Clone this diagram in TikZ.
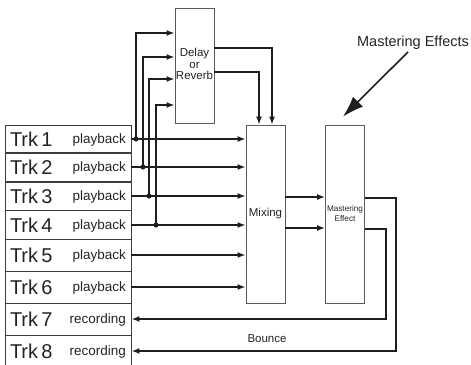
\documentclass[tikz,border=0pt]{standalone}
\usepackage{fontspec}
\setmainfont{Liberation Sans}
\usepackage{xcolor}
\usepackage{tikz}
\usetikzlibrary{positioning,arrows.meta,calc}
\definecolor{wireblack}{RGB}{30,30,30}
\definecolor{boxgrey}{RGB}{90,90,90}
\definecolor{rowgrey}{RGB}{60,60,60}
\definecolor{textgrey}{RGB}{35,35,35}
\tikzset{
  trkrow/.style={draw=rowgrey,line width=0.9pt,minimum width=126pt,text width=116pt,inner xsep=5pt,inner ysep=0pt,text=textgrey},
  fxbox/.style={draw=boxgrey,line width=0.8pt,minimum width=39pt,align=center,inner sep=1pt,text=textgrey},
  flow/.style={-{Latex[length=8pt,width=6pt]},line width=2pt,draw=wireblack},
  callout/.style={-{Latex[length=21pt,width=14pt]},line width=1.6pt,draw=wireblack},
  tap/.style={fill=wireblack},
}
\newcommand{\trkfont}{\fontsize{20}{20}\selectfont}
\newcommand{\modefont}{\fontsize{13.5}{14}\selectfont}
\newcommand{\fxfont}{\fontsize{11.5}{14}\selectfont}

\begin{document}
\begin{tikzpicture}[x=1pt,y=-1pt]
  \useasboundingbox (0,0) rectangle (471,364);
  \clip (0,0) rectangle (471,364);
  % track sheet
  \foreach \n/\yc/\h/\mode in {1/139/28/playback,2/167/29/playback,3/196/28/playback,4/225/29/playback,
                               5/255/32/playback,6/287/32/playback,7/319/32/recording,8/351/32/recording}
    \node[trkrow,minimum height=\h pt] (trk\n) at (68,\yc) {{\trkfont Trk \n}\hfill\raisebox{3pt}{\modefont \mode}};
  % processors
  \node[fxbox,minimum height=115pt,font=\fxfont] (delay) at (194.5,65.5) {\raisebox{3pt}{\shortstack{Delay\\or\\Reverb}}};
  \node[fxbox,minimum height=178pt,font=\fxfont] (mixing) at (265.5,214) {Mixing};
  \node[fxbox,minimum height=178pt,font=\fontsize{8.2}{10}\selectfont] (master) at (345,214) {Mastering\\Effect};
  \node[font=\fontsize{14.5}{16}\selectfont,text=textgrey,inner sep=0pt] (mlabel) at (413,43) {Mastering Effects};
  \node[font=\fxfont,text=textgrey,inner sep=0pt] (bounce) at (267,339) {Bounce};
  % playback tracks into the mixer
  \foreach \n in {1,...,6}
    \draw[flow] (trk\n.east) -- (trk\n.east -| mixing.west);
  % sends to the delay
  \foreach \n/\x/\y in {1/136/33,2/143/57,3/149/79,4/156/105}{
    \coordinate (tap\n) at (trk\n.east -| \x,0);
    \fill[tap] (tap\n) circle (2.6pt);
    \draw[flow] (tap\n) |- (delay.west |- 0,\y);
  }
  % returns from the delay
  \draw[flow] (delay.east |- 0,48) -| (mixing.north -| 272,0);
  \draw[flow] (delay.east |- 0,72) -| (mixing.north -| 259,0);
  % mix bus
  \draw[flow] (mixing.east |- 0,197) -- (master.west |- 0,197);
  \draw[flow] (mixing.east |- 0,228) -- (master.west |- 0,228);
  % bounce back to the recorder
  \draw[flow] (master.east |- 0,198) -| (trk8.east -| 396,0) -- (trk8.east);
  \draw[flow] (master.east |- 0,229) -| (trk7.east -| 386,0) -- (trk7.east);
  \draw[callout] ([xshift=-5pt,yshift=-2pt]mlabel.south) -- ([xshift=-2pt,yshift=8pt]master.north);
\end{tikzpicture}
\end{document}
